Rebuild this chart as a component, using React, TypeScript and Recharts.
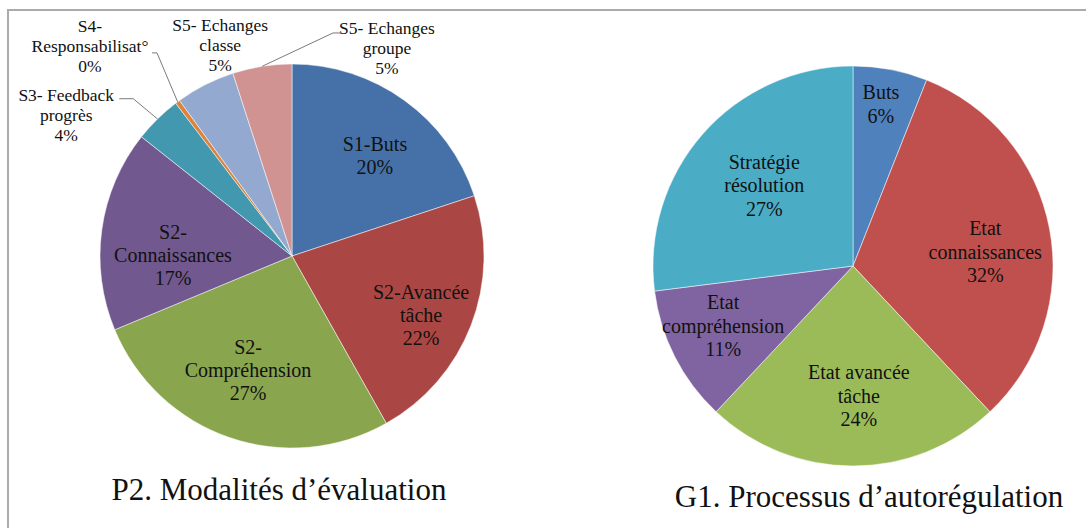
import { PieChart, Pie, Cell } from "recharts"

// P2 – modalités d'évaluation (clockwise from 12 o'clock)
const leftCategories = [
  "S1-Buts",
  "S2-Avancée\ntâche",
  "S2-\nCompréhension",
  "S2-\nConnaissances",
  "S3- Feedback\nprogrès",
  "S4-\nResponsabilisat°",
  "S5- Echanges\nclasse",
  "S5- Echanges\ngroupe",
]
const leftValues = [20, 22, 27, 17, 4, 0.4, 5, 5]

// G1 – processus d'autorégulation
const rightCategories = [
  "Buts",
  "Etat\nconnaissances",
  "Etat avancée\ntâche",
  "Etat\ncompréhension",
  "Stratégie\nrésolution",
]
const rightValues = [6, 32, 24, 11, 27]

const titles = ["P2. Modalités d’évaluation", "G1. Processus d’autorégulation"]

const leftColors = ["#4571a8", "#aa4744", "#89a54e", "#71588f", "#4198af", "#db843d", "#93a9d0", "#d09392"]
const rightColors = ["#4f81bd", "#c0504d", "#9bbb59", "#8064a2", "#4bacc6"]

const FONT = '"Liberation Serif", "DejaVu Serif", serif'
const RAD = Math.PI / 180

// label placement: [radius factor, clockwise shift from mid angle (deg), font size, line pitch]
const leftLayout = [
  [0.677, 3.8, 20, 23],
  [0.739, 3.4, 20, 23],
  [0.636, 2.1, 20, 23],
  [0.62, -7.4, 20, 23],
  [1.387, -13.5, 17.5, 20],
  [1.518, -7.3, 17.5, 20],
  [1.161, 8.1, 17.5, 20],
  [1.191, 33.5, 17.5, 20],
]
const rightLayout = [
  [0.82, -1, 20, 23.5],
  [0.665, 4.7, 20, 23.5],
  [0.65, -2.6, 20, 23.5],
  [0.715, 2.2, 20, 23.5],
  [0.6, 0.9, 20, 23.5],
]
// leader lines: [endDx, endDy, elbowDx, elbowDy] relative to label centre
const leftLeaders: Record<number, number[]> = {
  4: [53, -16, 67, -16],
  5: [62, 7, 67, 7],
  7: [-47, -15, -54, -15],
}

const leftData = leftCategories.map((name, i) => ({ name, value: leftValues[i] }))
const rightData = rightCategories.map((name, i) => ({ name, value: rightValues[i] }))

function makeLabel(layout: number[][], leaders: Record<number, number[]>) {
  return (props: any) => {
    const { cx, cy, midAngle, outerRadius, percent, index, name } = props
    const [rf, shift, fs, lh] = layout[index]
    const a = (midAngle - shift) * RAD
    const x = cx + outerRadius * rf * Math.cos(a)
    const y = cy - outerRadius * rf * Math.sin(a)
    const lines = [...String(name).split("\n"), `${Math.round(percent * 100)}%`]
    const top = y - ((lines.length - 1) * lh) / 2
    const lead = leaders[index]
    let path = null
    if (lead) {
      const m = midAngle * RAD
      const sx = cx + outerRadius * Math.cos(m)
      const sy = cy - outerRadius * Math.sin(m)
      path = (
        <path
          d={`M${sx},${sy}L${x + lead[2]},${y + lead[3]}L${x + lead[0]},${y + lead[1]}`}
          stroke="#7a7a7a"
          strokeWidth={1}
          fill="none"
        />
      )
    }
    return (
      <g>
        {path}
        <text textAnchor="middle" style={{ fontFamily: FONT, fontSize: fs }} fill="#111">
          {lines.map((l, i) => (
            <tspan key={i} x={x} y={top + i * lh + fs * 0.34}>
              {l}
            </tspan>
          ))}
        </text>
      </g>
    )
  }
}

export default function App() {
  return (
    <div style={{ position: "absolute", left: 0, top: 0, width: 1086, height: 528, background: "#fff" }}>
      <PieChart width={1086} height={528} margin={{ top: 0, right: 0, bottom: 0, left: 0 }}>
        <Pie
          data={leftData}
          dataKey="value"
          nameKey="name"
          cx={292}
          cy={256}
          outerRadius={192}
          startAngle={90}
          endAngle={-270}
          stroke="#fff"
          strokeWidth={0.5}
          label={makeLabel(leftLayout, leftLeaders)}
          labelLine={false}
          isAnimationActive={false}
        >
          {leftData.map((d, i) => (
            <Cell key={d.name} fill={leftColors[i]} />
          ))}
        </Pie>
        <Pie
          data={rightData}
          dataKey="value"
          nameKey="name"
          cx={853}
          cy={266}
          outerRadius={200}
          startAngle={90}
          endAngle={-270}
          stroke="#fff"
          strokeWidth={0.5}
          label={makeLabel(rightLayout, {})}
          labelLine={false}
          isAnimationActive={false}
        >
          {rightData.map((d, i) => (
            <Cell key={d.name} fill={rightColors[i]} />
          ))}
        </Pie>
      </PieChart>
      {/* frame + titles */}
      <svg
        width={1086}
        height={528}
        style={{ position: "absolute", left: 0, top: 0, pointerEvents: "none" }}
      >
        <path d="M8,528V10H1086" stroke="#ababab" strokeWidth={2} fill="none" />
        <text x={279} y={500} textAnchor="middle" style={{ fontFamily: FONT, fontSize: 31 }} fill="#111">
          {titles[0]}
        </text>
        <text x={869} y={507} textAnchor="middle" style={{ fontFamily: FONT, fontSize: 31 }} fill="#111">
          {titles[1]}
        </text>
      </svg>
    </div>
  )
}
